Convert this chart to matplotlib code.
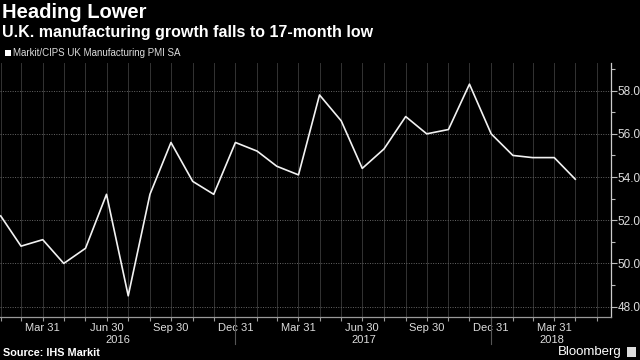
import matplotlib
matplotlib.use("Agg")
import matplotlib.pyplot as plt
import matplotlib.dates as mdates
import matplotlib.transforms as mtransforms
from matplotlib.ticker import MultipleLocator, FixedLocator
import pandas as pd
import numpy as np

# ---- data ----
months = pd.date_range("2016-01-31", "2018-04-30", freq="ME")
pmi = [52.2, 50.8, 51.1, 50.0, 50.7, 53.2, 48.5, 53.2, 55.6, 53.8, 53.2, 55.6,
       55.2, 54.5, 54.1, 57.8, 56.6, 54.4, 55.3, 56.8, 56.0, 56.2, 58.3, 56.0,
       55.0, 54.9, 54.9, 53.9]
series_name = "Markit/CIPS UK Manufacturing PMI SA"
title = "Heading Lower"
subtitle = "U.K. manufacturing growth falls to 17-month low"
source = "Source: IHS Markit"
years = [2016, 2017, 2018]

plt.rcParams['font.family'] = ['Liberation Sans', 'DejaVu Sans']
BG = "black"
fig = plt.figure(figsize=(6.4, 3.6), dpi=100, facecolor=BG)
ax = fig.add_axes([0.0, 1 - 317/360, 611/640, (317 - 63)/360])
ax.set_facecolor(BG)

ax.plot(months, pmi, color="#f2f2f2", lw=1.2, zorder=3)

xmin = pd.Timestamp("2016-01-30")
xmax = pd.Timestamp("2018-06-20")
ax.set_xlim(xmin, xmax)
ax.set_ylim(47.52, 59.28)

# y axis on the right
ax.yaxis.tick_right()
ax.yaxis.set_major_locator(MultipleLocator(2))
ax.yaxis.set_minor_locator(MultipleLocator(1))
ax.yaxis.set_major_formatter(matplotlib.ticker.FormatStrFormatter("%.1f"))
ax.tick_params(axis="y", which="major", length=4, width=0.8, color="#bbbbbb",
               labelcolor="#dddddd", labelsize=8.5, pad=1)
ax.tick_params(axis="y", which="minor", length=3, width=0.8, color="#bbbbbb")

# x axis
all_months = pd.date_range("2016-01-31", "2018-05-31", freq="ME")
quarters = [d for d in all_months if d.month in (3, 6, 9, 12)]
ax.xaxis.set_major_locator(FixedLocator(mdates.date2num(quarters)))
ax.xaxis.set_minor_locator(FixedLocator(mdates.date2num(all_months)))
ax.xaxis.set_major_formatter(mdates.DateFormatter("%b %d"))
ax.tick_params(axis="x", which="both", length=3, width=0.8, color="#999999",
               labelcolor="#dddddd", labelsize=8, pad=1)

# grid
for d in all_months:
    ax.axvline(d, color="#333333", lw=0.7, zorder=1)
for v in np.arange(48, 59, 2):
    ax.axhline(v, color="#666666", lw=0.7, ls=(0, (1, 1.5)), zorder=1)

for s in ["top", "left"]:
    ax.spines[s].set_visible(False)
ax.spines["right"].set_color("#cccccc")
ax.spines["bottom"].set_color("#999999")
ax.spines["right"].set_linewidth(0.9)
ax.spines["bottom"].set_linewidth(0.9)

# year labels and separators
trans = mtransforms.blended_transform_factory(ax.transData, ax.transAxes)
for y in years:
    start = max(pd.Timestamp(f"{y}-01-01"), xmin)
    end = min(pd.Timestamp(f"{y}-12-31"), xmax)
    mid = start + (end - start) / 2
    ax.text(mid, -0.092, str(y), transform=trans, ha="center", va="center",
            color="#dddddd", fontsize=8)
    sep = pd.Timestamp(f"{y}-12-31")
    if xmin < sep < xmax:
        ax.plot([sep, sep], [0, -0.105], transform=trans, color="#555555",
                lw=0.8, clip_on=False)

# titles
fig.text(0.003, 1 - 13/360, title, color="white", fontsize=14.5, fontweight="bold",
         va="center", ha="left")
fig.text(0.003, 1 - 33/360, subtitle, color="white", fontsize=11.5, fontweight="bold",
         va="center", ha="left")
# legend
fig.patches.append(matplotlib.patches.Rectangle((5/640, 1 - 56/360), 6/640, 6/360,
                   transform=fig.transFigure, facecolor="white", edgecolor="none"))
fig.text(13/640, 1 - 53/360, series_name, color="#dddddd", fontsize=7, va="center", ha="left")

# footer
fig.text(3/640, 1 - 353/360, source, color="white", fontsize=7.8, fontweight="bold",
         va="center", ha="left")
fig.text(622/640, 1 - 352/360, "Bloomberg", color="white", fontsize=9.5,
         va="center", ha="right")
fig.patches.append(matplotlib.patches.Rectangle((627/640, 1 - 357/360), 9/640, 10/360,
                   transform=fig.transFigure, facecolor="#dddddd", edgecolor="none"))

fig.savefig("out.png", dpi=100, facecolor=BG)
